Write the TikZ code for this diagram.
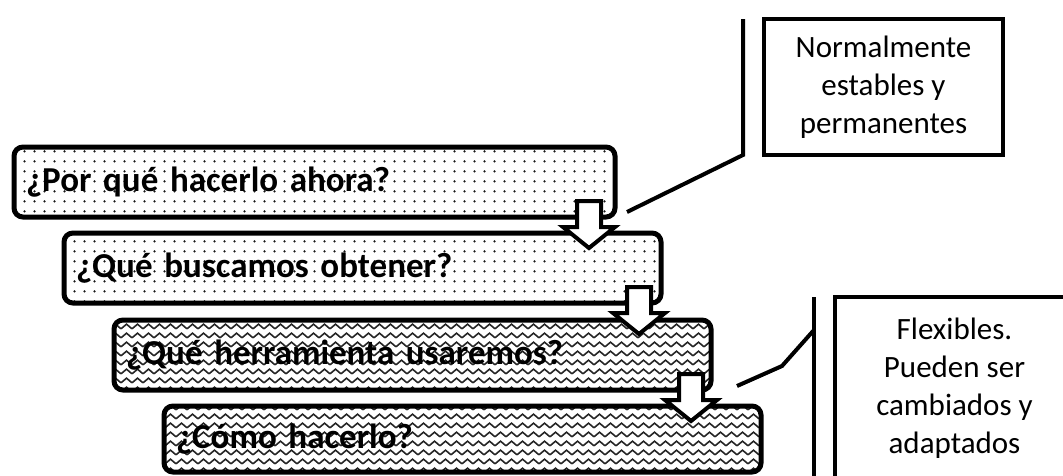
\documentclass[tikz,border=0pt]{standalone}
\usepackage{fontspec}
\setmainfont{Carlito}
\usetikzlibrary{positioning,patterns}

% fill patterns of the steps
\pgfdeclarepatternformonly{boxdots}{\pgfpointorigin}{\pgfpoint{10pt}{10pt}}{\pgfpoint{10pt}{10pt}}{%
  \pgfpathcircle{\pgfpoint{5pt}{5pt}}{1.4pt}\pgfusepath{fill}}
\pgfdeclarepatternformonly{boxzigzag}{\pgfpoint{-1pt}{0pt}}{\pgfpoint{12pt}{9pt}}{\pgfpoint{11pt}{9pt}}{%
  \pgfsetlinewidth{1.6pt}%
  \pgfpathmoveto{\pgfpoint{0pt}{2.2pt}}\pgfpathlineto{\pgfpoint{5.5pt}{6.8pt}}\pgfpathlineto{\pgfpoint{11pt}{2.2pt}}%
  \pgfusepath{stroke}}

\begin{document}
\begin{tikzpicture}[x=1pt,y=-1pt,
    stepbox/.style={draw, line width=5pt, rounded corners=9pt, outer sep=0pt,
      minimum height=70pt, text width=573pt, inner xsep=12pt, align=left,
      font=\fontsize{35}{42}\selectfont\bfseries},
    dotbox/.style={stepbox, pattern=boxdots, pattern color=black!90},
    wavebox/.style={stepbox, pattern=boxzigzag, pattern color=black!85},
    downarrow/.style={draw, line width=4pt, fill=white, line join=miter},
    note/.style={draw, line width=4pt, outer sep=0pt, minimum width=239pt,
      align=center, font=\fontsize{31}{38}\selectfont},
    leader/.style={line width=4pt}]
  \useasboundingbox (0,0) rectangle (1063,475);

  % the four steps
  \node[dotbox, text width=577pt, anchor=north west] (q1) at (14,147) {¿Por qué hacerlo ahora?};
  \node[dotbox, below right=16pt and 50pt of q1.south west] (q2) {¿Qué buscamos obtener?};
  \node[wavebox, below right=17pt and 50pt of q2.south west] (q3) {¿Qué herramienta usaremos?};
  \node[wavebox, minimum height=66pt, below right=16pt and 50pt of q3.south west] (q4) {¿Cómo hacerlo?};

  % arrows between steps
  \foreach \q/\dx in {q1/38,q2/34,q3/32}
    \draw[downarrow] ([shift={(-\dx,-16)}]\q.south east) -- ++(24,0) -- ++(0,26) -- ++(14,0)
      -- ++(-26,21) -- ++(-26,-21) -- ++(14,0) -- cycle;

  % callouts
  \node[note, minimum height=136pt, anchor=north west] (c1) at (764,19) {Normalmente\\estables y\\permanentes};
  \node[note, minimum height=182pt, anchor=north west] (c2) at (835,297) {Flexibles.\\Pueden ser\\cambiados y\\adaptados};
  \coordinate (tip1) at (627,212);
  \coordinate (bend2) at (782,366);
  \coordinate (tip2) at (737,386);
  \draw[leader] ([xshift=-21pt]c1.north west) -- ([xshift=-21pt]c1.south west) -- (tip1);
  \draw[leader] ([xshift=-21pt]c2.north west) -- ([xshift=-21pt]c2.south west);
  \draw[leader] ([shift={(-21,33)}]c2.north west) -- (bend2) -- (tip2);
\end{tikzpicture}
\end{document}
